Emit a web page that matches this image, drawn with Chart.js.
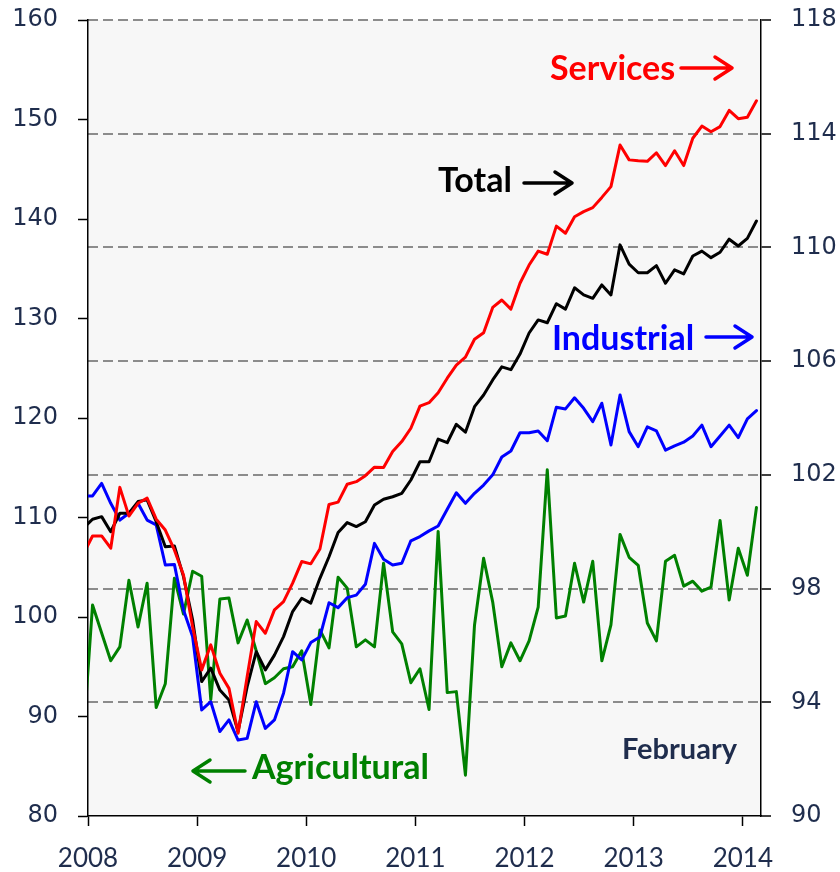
<!DOCTYPE html>
<html>
<head>
<meta charset="utf-8">
<script src="https://cdn.jsdelivr.net/npm/chart.js@4.4.1/dist/chart.umd.min.js"></script>
<style>
  html, body { margin: 0; padding: 0; background: #ffffff; }
  #wrap { width: 840px; height: 872px; }
</style>
</head>
<body>
<div id="wrap"><canvas id="c" width="840" height="872"></canvas></div>
<script>
// Months (Dec 2007 .. Feb 2014); the Dec 2007 point lies just left of the axis and is clipped
const months = [
  '2007-12',
  '2008-01','2008-02','2008-03','2008-04','2008-05','2008-06','2008-07','2008-08','2008-09','2008-10','2008-11','2008-12',
  '2009-01','2009-02','2009-03','2009-04','2009-05','2009-06','2009-07','2009-08','2009-09','2009-10','2009-11','2009-12',
  '2010-01','2010-02','2010-03','2010-04','2010-05','2010-06','2010-07','2010-08','2010-09','2010-10','2010-11','2010-12',
  '2011-01','2011-02','2011-03','2011-04','2011-05','2011-06','2011-07','2011-08','2011-09','2011-10','2011-11','2011-12',
  '2012-01','2012-02','2012-03','2012-04','2012-05','2012-06','2012-07','2012-08','2012-09','2012-10','2012-11','2012-12',
  '2013-01','2013-02','2013-03','2013-04','2013-05','2013-06','2013-07','2013-08','2013-09','2013-10','2013-11','2013-12',
  '2014-01','2014-02'
];

// Right axis (90-118)
const services = [
  99.22,
  99.85, 99.85, 99.42, 101.56, 100.55, 101.00, 101.18, 100.44, 100.06, 99.36, 98.48, 96.66,
  95.14, 96.02, 95.02, 94.49, 92.91, 94.90, 96.84, 96.43, 97.25, 97.54, 98.19, 98.95,
  98.87, 99.39, 100.96, 101.04, 101.67, 101.76, 101.97, 102.27, 102.26, 102.82, 103.17, 103.64,
  104.42, 104.54, 104.89, 105.40, 105.86, 106.14, 106.77, 107.00, 107.89, 108.15, 107.83, 108.74,
  109.38, 109.87, 109.76, 110.75, 110.50, 111.08, 111.26, 111.40, 111.76, 112.14, 113.60, 113.08,
  113.05, 113.03, 113.33, 112.88, 113.40, 112.88, 113.84, 114.27, 114.07, 114.25, 114.82, 114.53,
  114.58, 115.16
];
const total = [
  100.13,
  100.44, 100.53, 100.00, 100.65, 100.65, 101.06, 101.12, 100.35, 99.47, 99.50, 98.42, 96.90,
  94.73, 95.20, 94.43, 94.08, 92.97, 94.55, 95.78, 95.14, 95.66, 96.31, 97.19, 97.66,
  97.49, 98.36, 99.12, 99.97, 100.32, 100.18, 100.35, 100.94, 101.14, 101.23, 101.35, 101.82,
  102.46, 102.46, 103.26, 103.13, 103.78, 103.50, 104.40, 104.81, 105.34, 105.80, 105.70, 106.25,
  106.99, 107.45, 107.35, 108.02, 107.83, 108.58, 108.33, 108.21, 108.68, 108.33, 110.09, 109.41,
  109.11, 109.11, 109.36, 108.74, 109.21, 109.07, 109.70, 109.87, 109.64, 109.83, 110.29, 110.05,
  110.32, 110.93
];
const industrial = [
  101.26,
  101.26, 101.70, 101.00, 100.41, 100.65, 101.00, 100.41, 100.24, 98.83, 98.85, 97.25, 96.31,
  93.73, 94.02, 92.97, 93.38, 92.67, 92.73, 94.02, 93.08, 93.38, 94.32, 95.78, 95.49,
  96.10, 96.30, 97.50, 97.33, 97.68, 97.77, 98.15, 99.59, 99.03, 98.83, 98.89, 99.68,
  99.83, 100.03, 100.20, 100.79, 101.37, 101.00, 101.35, 101.64, 102.00, 102.63, 102.84, 103.48,
  103.48, 103.54, 103.20, 104.38, 104.32, 104.71, 104.34, 103.87, 104.52, 103.05, 104.81, 103.52,
  102.99, 103.69, 103.55, 102.87, 103.02, 103.15, 103.37, 103.75, 102.99, 103.37, 103.75, 103.31,
  103.97, 104.26
];
// Left axis (80-160)
const agricultural = [
  88.1,
  101.2, 98.4, 95.6, 97.0, 103.7, 99.0, 103.4, 90.9, 93.3, 103.9, 100.3, 104.6,
  104.1, 91.7, 101.8, 101.9, 97.4, 99.7, 96.6, 93.3, 93.9, 94.8, 95.0, 96.6,
  91.2, 98.7, 96.9, 104.0, 102.9, 97.0, 97.7, 97.0, 105.4, 98.5, 97.3, 93.4,
  94.8, 90.7, 108.6, 92.4, 92.5, 84.1, 99.2, 105.9, 101.5, 95.0, 97.4, 95.6,
  97.6, 101.0, 114.8, 99.9, 100.1, 105.4, 101.5, 105.6, 95.6, 99.2, 108.3, 106.0,
  105.2, 99.4, 97.6, 105.6, 106.2, 103.1, 103.6, 102.6, 103.0, 109.7, 101.7, 106.9,
  104.2, 111.0
];

const yearLabels = ['2008', '2009', '2010', '2011', '2012', '2013', '2014'];
const leftTicks = [80, 90, 100, 110, 120, 130, 140, 150, 160];
const rightTicks = [90, 94, 98, 102, 106, 110, 114, 118];

// x position in months since Jan 2008, points at mid-month
function monthPos(label) {
  const [y, m] = label.split('-').map(Number);
  return (y - 2008) * 12 + (m - 1) + 0.5;
}
function toPoints(values) {
  return values.map((v, i) => ({ x: monthPos(months[i]), y: v }));
}
const xMax = monthPos('2014-03') - 0.5;

const TICK_COLOR = '#1F2D4D';

const bgPlugin = {
  id: 'bg',
  beforeDraw(chart) {
    const { ctx, chartArea: a } = chart;
    ctx.save();
    ctx.fillStyle = '#F7F7F7';
    ctx.fillRect(a.left, a.top, a.right - a.left, a.bottom - a.top);
    ctx.restore();
  }
};

function arrow(ctx, x1, x2, y, color) {
  const dir = x2 > x1 ? 1 : -1;
  ctx.save();
  ctx.strokeStyle = color;
  ctx.lineWidth = 3.5;
  ctx.lineCap = 'round';
  ctx.lineJoin = 'round';
  ctx.beginPath();
  ctx.moveTo(x1, y);
  ctx.lineTo(x2, y);
  ctx.moveTo(x2 - dir * 17, y - 11);
  ctx.lineTo(x2, y);
  ctx.lineTo(x2 - dir * 17, y + 11);
  ctx.stroke();
  ctx.restore();
}

const notePlugin = {
  id: 'notes',
  afterDatasetsDraw(chart) {
    const ctx = chart.ctx;
    ctx.save();
    ctx.textAlign = 'left';
    ctx.textBaseline = 'alphabetic';
    ctx.font = 'bold 34px Lato';
    ctx.fillStyle = '#FF0000';
    ctx.fillText('Services', 550, 80);
    ctx.fillStyle = '#000000';
    ctx.fillText('Total', 438, 192);
    ctx.fillStyle = '#0000FF';
    ctx.fillText('Industrial', 552, 350);
    ctx.fillStyle = '#008000';
    ctx.fillText('Agricultural', 252, 779);
    ctx.font = 'bold 29px Lato';
    ctx.fillStyle = TICK_COLOR;
    ctx.fillText('February', 622, 759);
    ctx.restore();
    arrow(ctx, 681, 732, 68, '#FF0000');
    arrow(ctx, 524, 572, 183, '#000000');
    arrow(ctx, 706, 752, 337, '#0000FF');
    arrow(ctx, 245, 193, 771, '#008000');
  }
};

function ds(label, values, color, axis, order) {
  return {
    label, data: toPoints(values), yAxisID: axis,
    borderColor: color, backgroundColor: color, borderWidth: 3,
    pointRadius: 0, tension: 0, borderJoinStyle: 'round', borderCapStyle: 'round',
    clip: 0, order
  };
}

new Chart(document.getElementById('c'), {
  type: 'line',
  data: {
    datasets: [
      ds('Services', services, '#FF0000', 'y2', 0),
      ds('Total', total, '#000000', 'y2', 1),
      ds('Industrial', industrial, '#0000FF', 'y2', 2),
      ds('Agricultural', agricultural, '#008000', 'y', 3)
    ]
  },
  options: {
    responsive: false,
    animation: false,
    events: [],
    layout: { padding: { top: 20, left: 0, right: 0, bottom: 0 } },
    plugins: { legend: { display: false }, tooltip: { enabled: false } },
    scales: {
      x: {
        type: 'linear', min: 0, max: xMax,
        afterBuildTicks: s => { s.ticks = yearLabels.map((_, i) => ({ value: i * 12 })); },
        afterFit: s => { s.height = 56; s.paddingLeft = 0; s.paddingRight = 0; },
        ticks: {
          autoSkip: false, maxRotation: 0, padding: 17,
          color: TICK_COLOR, font: { family: 'Lato', size: 26 },
          callback: (v, i) => yearLabels[i]
        },
        grid: { display: true, drawOnChartArea: false, drawTicks: true, tickLength: 10, tickColor: '#000', tickWidth: 1.5, color: '#000' },
        border: { display: true, color: '#000', width: 1.5 }
      },
      y: {
        position: 'left', min: 80, max: 160,
        afterBuildTicks: s => { s.ticks = leftTicks.map(v => ({ value: v })); },
        afterFit: s => { s.width = 88; s.paddingTop = 0; s.paddingBottom = 0; },
        ticks: { color: TICK_COLOR, padding: 20, font: { family: 'DejaVu Sans', size: 24 } },
        grid: { display: true, drawOnChartArea: false, drawTicks: true, tickLength: 10, tickColor: '#000', tickWidth: 1.5, color: '#000' },
        border: { display: true, color: '#000', width: 1.5 }
      },
      y2: {
        position: 'right', min: 90, max: 118,
        afterBuildTicks: s => { s.ticks = rightTicks.map(v => ({ value: v })); },
        afterFit: s => { s.width = 79; s.paddingTop = 0; s.paddingBottom = 0; },
        ticks: { color: TICK_COLOR, padding: 20, font: { family: 'DejaVu Sans', size: 24 } },
        grid: {
          display: true, drawOnChartArea: true, drawTicks: true, tickLength: 10,
          color: ctx => (ctx.tick && ctx.tick.value === 90) ? 'rgba(0,0,0,0)' : '#8C8C8C',
          lineWidth: 2, tickColor: '#000', tickWidth: 1.5, tickBorderDash: []
        },
        border: { display: true, color: '#000', width: 1.5, dash: [10, 5] }
      }
    }
  },
  plugins: [bgPlugin, notePlugin]
});
</script>
</body>
</html>
